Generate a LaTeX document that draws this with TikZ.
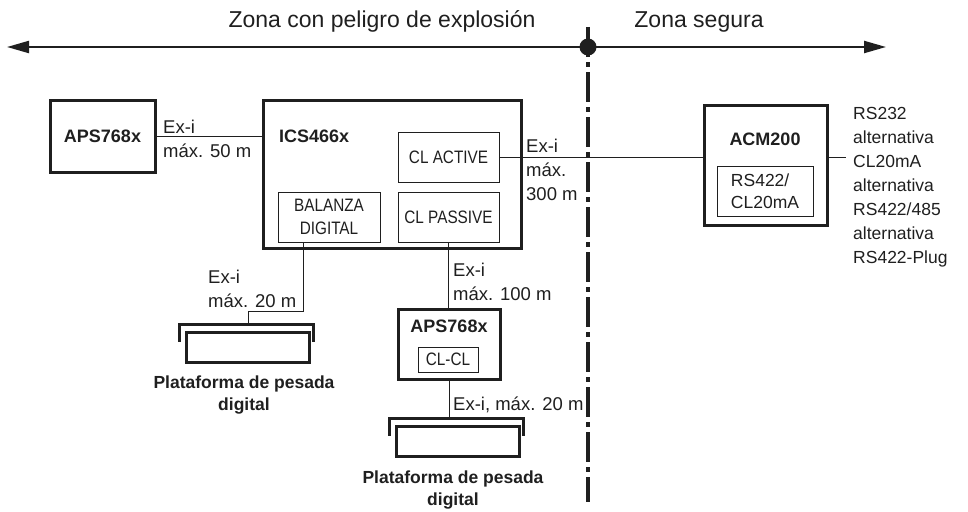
\documentclass[tikz,border=0pt]{standalone}
\usepackage{fontspec}
\setmainfont{Liberation Sans}
\newfontfamily\condfont[FakeStretch=0.85]{Liberation Sans}
\usetikzlibrary{arrows.meta}
\begin{document}
\begin{tikzpicture}[x=1pt,y=-1pt,
  every node/.style={text=black!88},
  box/.style={draw=black!88, line width=3pt, inner sep=0pt},
  ibox/.style={draw=black!88, line width=1pt, inner sep=0pt, align=center,
    font=\condfont\fontsize{18}{23}\selectfont},
  bld/.style={font=\bfseries\fontsize{18}{22}\selectfont, inner sep=0pt},
  lbl/.style={font=\fontsize{18.5}{24}\selectfont, align=left, inner sep=0pt, anchor=base west},
  head/.style={font=\fontsize{23}{28}\selectfont, inner sep=0pt, anchor=base},
  wire/.style={draw=black!88, line width=1pt},
  plat/.style={draw=black!88, line width=3pt},
  axis/.style={draw=black!88, line width=2.2pt, {Triangle[length=22pt,width=12pt]}-{Triangle[length=22pt,width=12pt]}},
  zone/.style={draw=black!88, line width=4pt, dash pattern=on 30pt off 5pt on 4.5pt off 5.5pt}]
  \useasboundingbox (0,0) rectangle (968,511);

  \coordinate (wl) at (7,47);
  \coordinate (wr) at (886,47);
  \draw[axis] (wl) -- (wr);
  \draw[zone] (588,27) -- (588,502);
  \node[circle, fill=black!88, minimum size=17pt, inner sep=0pt] (dot) at (588,47) {};
  \node[head] (z1) at (382,28) {Zona con peligro de explosión};
  \node[head] (z2) at (699,28) {Zona segura};

  \node[box, bld, draw, minimum width=105pt, minimum height=72pt] (aps1) at (102.5,136) {APS768x};
  \node[box, minimum width=258pt, minimum height=148pt] (ics) at (392,174) {};
  \node[bld, anchor=base west] (icst) at (279,142) {ICS466x};
  \node[ibox, minimum width=101pt, minimum height=50pt] (cla) at (448.5,157) {CL ACTIVE};
  \node[ibox, minimum width=101pt, minimum height=50pt] (clp) at (448.5,217) {CL PASSIVE};
  \node[ibox, minimum width=102pt, minimum height=50pt] (bal) at (329,217) {BALANZA\\DIGITAL};

  \node[box, minimum width=102pt, minimum height=70pt] (aps2) at (449,344) {};
  \node[bld, anchor=base] (aps2t) at (449,332) {APS768x};
  \node[ibox, minimum width=60pt, minimum height=25pt] (clcl) at (448,359.5) {CL-CL};

  \node[box, minimum width=123pt, minimum height=120pt] (acm) at (765.5,165) {};
  \node[bld, anchor=base] (acmt) at (765,145) {ACM200};
  \node[ibox, align=left, font=\fontsize{17.5}{22}\selectfont, minimum width=96pt, minimum height=50pt] (rsb) at (765,191) {RS422/\\CL20mA};

  \node[box, minimum width=123pt, minimum height=30pt] (pr1) at (248,347) {};
  \draw[plat] (pr1.north west) ++(-5.5,11) -- ++(0,-17) -- ++(134,0) -- ++(0,17);
  \coordinate (t1) at ([yshift=6pt]pr1.north);
  \node[box, minimum width=123pt, minimum height=30pt] (pr2) at (458,441) {};
  \draw[plat] (pr2.north west) ++(-5.5,11) -- ++(0,-17) -- ++(134,0) -- ++(0,17);
  \coordinate (t2) at ([yshift=6pt]pr2.north);

  \draw[wire] (aps1.east) -- (aps1.east -| ics.west);
  \draw[wire] (cla.east) -- (cla.east -| acm.west);
  \coordinate (rsend) at (846,157);
  \draw[wire] (acm.east |- cla.east) -- (rsend);
  \draw[wire] ([xshift=26pt]bal.south west) |- ([yshift=13pt]t1) -- (t1);
  \draw[wire] (clp.south) -- (clp.south |- aps2.north);
  \draw[wire] (aps2.south) -- (aps2.south |- t2);

  \node[lbl] (c1) at (163,157) {Ex-i\\máx. 50 m};
  \node[lbl] (c2) at (208,307) {Ex-i\\máx. 20 m};
  \node[lbl] (c3) at (453,300) {Ex-i\\máx. 100 m};
  \node[lbl] (c4) at (453,410) {Ex-i, máx. 20 m};
  \node[lbl] (c5) at (526,200) {Ex-i\\máx.\\300 m};
  \node[lbl, font=\fontsize{17.5}{24}\selectfont] (rs) at (853,263)
    {RS232\\alternativa\\CL20mA\\alternativa\\RS422/485\\alternativa\\RS422-Plug};
  \node[bld, anchor=base, align=center, font=\bfseries\fontsize{17.5}{22}\selectfont] (p1) at (244,410) {Plataforma de pesada\\digital};
  \node[bld, anchor=base, align=center, font=\bfseries\fontsize{17.5}{22}\selectfont] (p2) at (453,505) {Plataforma de pesada\\digital};
\end{tikzpicture}
\end{document}
